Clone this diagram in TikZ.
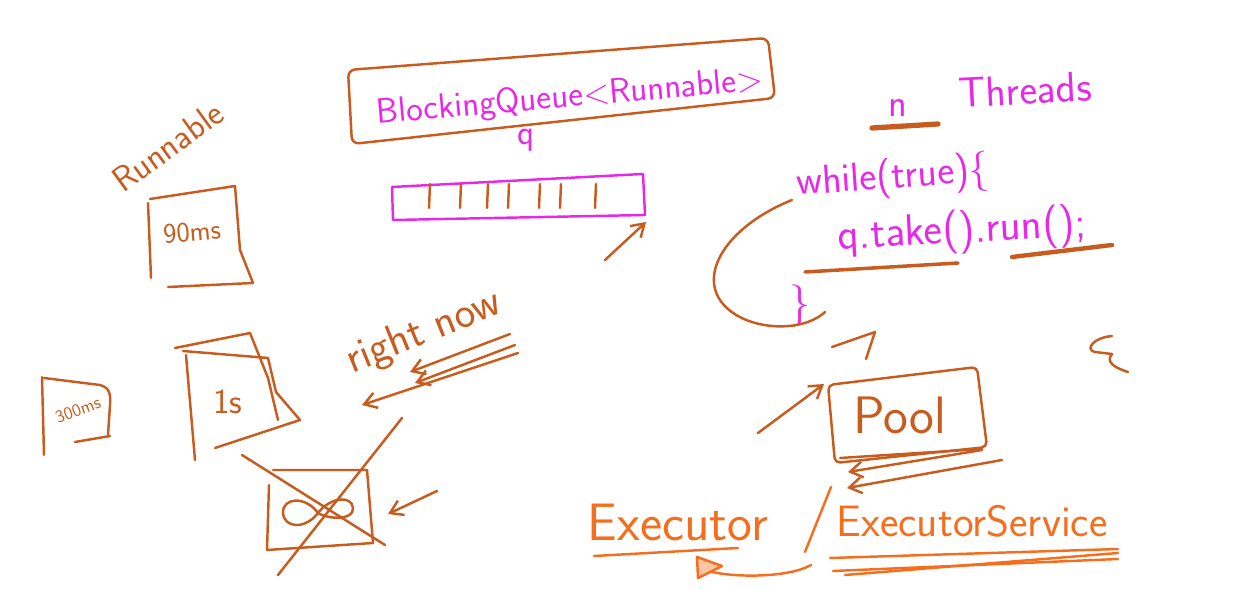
\documentclass[tikz,border=0pt]{standalone}
\usepackage{tikz}
\usetikzlibrary{arrows.meta}
\definecolor{ink}{RGB}{200,92,30}
\definecolor{pinkink}{RGB}{232,40,232}
\definecolor{brightink}{RGB}{245,110,30}
\newcommand{\hand}[1]{\sffamily\fontsize{#1}{#1}\selectfont}
\tikzset{
  stroke/.style={draw=ink, line width=1.4pt, line cap=round, line join=round},
  pstroke/.style={draw=pinkink, line width=1.4pt, line cap=round, line join=round},
  ostroke/.style={draw=brightink, line width=1.4pt, line cap=round, line join=round},
  barb/.style={-{Straight Barb[length=7pt,width=9pt]}},
  inktext/.style={text=ink, inner sep=0pt},
  pinktext/.style={text=pinkink, inner sep=0pt},
  brighttext/.style={text=brightink, inner sep=0pt}
}

\begin{document}
\begin{tikzpicture}[x=0.02cm, y=-0.02cm]
  \useasboundingbox (0,0) rectangle (1240,590);

  % blocking queue
  \draw[stroke, rounded corners=4pt] (348,70) -- (768,38) -- (775,98) -- (352,144) -- cycle;
  \node[pinktext, rotate=5, font=\hand{20}] (bq) at (570,98) {BlockingQueue<Runnable>};
  \node[pinktext, font=\hand{20}] (q) at (526,140) {q};
  \draw[pstroke] (392,187) -- (643,174) -- (645,215) -- (393,220) -- cycle;
  \foreach \x in {430,461,488,509,540,561,596}
    \draw[stroke] (\x,184) -- (\x-1,208);
  \draw[stroke, barb] (605,260) -- (646,222);

  % runnables
  \node[inktext, rotate=36, font=\hand{20}] (rn) at (168,146) {Runnable};
  \draw[stroke] (148,203) -- (151,278);
  \draw[stroke] (150,199) -- (235,186) -- (240,250) -- (253,283) -- (168,287);
  \node[inktext, rotate=5, font=\hand{16}] (t90) at (192,232) {90ms};
  \draw[stroke] (42,377) -- (44,455);
  \draw[stroke] (44,378) -- (100,385) .. controls (112,388) and (110,398) .. (110,405) -- (108,435);
  \draw[stroke] (75,442) -- (110,436);
  \node[inktext, rotate=20, font=\hand{10}] (t300) at (78,410) {300ms};
  \draw[stroke] (175,348) -- (250,333) -- (268,378) -- (278,420);
  \draw[stroke] (183,351) -- (268,358) -- (276,392) -- (300,420) -- (215,448);
  \draw[stroke] (186,355) -- (195,460);
  \node[inktext, font=\hand{20}] (t1s) at (228,402) {1s};
  \node[inktext, rotate=22, font=\hand{25}] (now) at (424,333) {right now};
  \draw[stroke, barb] (510,334) -- (410,372);
  \draw[stroke, barb] (515,345) -- (415,383);
  \draw[stroke, barb] (518,353) -- (362,405);

  % infinite task
  \draw[stroke] (273,470) -- (367,470) -- (373,543) -- (267,550);
  \draw[stroke] (269,485) -- (267,550);
  \draw[stroke] (318,513) .. controls (305,495) and (282,498) .. (283,513)
    .. controls (284,528) and (305,530) .. (318,513)
    .. controls (330,497) and (352,495) .. (353,508)
    .. controls (354,520) and (330,520) .. (318,513);
  \draw[stroke] (242,455) -- (385,545);
  \draw[stroke] (402,418) -- (278,575);
  \draw[stroke, barb] (437,491) -- (388,514);

  % threads
  \node[pinktext, font=\hand{22}] (n) at (898,108) {n};
  \draw[stroke, line width=3pt] (872,128) -- (938,124);
  \node[pinktext, rotate=3, font=\hand{24}] (thr) at (1025,90) {Threads};
  \node[pinktext, rotate=4, font=\hand{23}] (loop) at (893,178) {while(true)\{};
  \node[pinktext, rotate=3, font=\hand{25}] (take) at (962,232) {q.take().run();};
  \node[pinktext, font=\hand{24}] (close) at (800,306) {\}};
  \draw[stroke, line width=2pt] (805,272) -- (958,263);
  \draw[stroke, line width=2.5pt] (1012,257) -- (1112,245);
  \draw[stroke] (792,200) .. controls (730,225) and (700,270) .. (720,300)
    .. controls (740,330) and (800,335) .. (825,312);
  \draw[stroke] (832,347) -- (875,332) -- (866,359);

  % pool
  \draw[stroke, rounded corners=3pt] (828,385) -- (977,367) -- (987,447) -- (835,463) -- cycle;
  \draw[stroke] (840,458) -- (982,449);
  \node[inktext, font=\hand{30}] (pool) at (900,415) {Pool};
  \draw[stroke, barb] (758,433) -- (824,384);
  \draw[stroke, barb] (982,450) -- (848,472);
  \draw[stroke, barb] (1002,460) -- (847,488);
  \draw[stroke] (1112,336) .. controls (1092,338) and (1085,350) .. (1095,352)
    -- (1112,354) .. controls (1105,362) and (1115,368) .. (1128,372);

  % executor
  \node[brighttext, font=\hand{30}] (exe) at (678,522) {Executor};
  \draw[ostroke] (831,487) -- (805,552);
  \node[brighttext, font=\hand{25}] (exs) at (972,521) {ExecutorService};
  \draw[ostroke] (594,556) -- (738,548);
  \draw[ostroke] (830,558) -- (1118,549);
  \draw[ostroke] (833,571) -- (1118,559);
  \draw[ostroke] (845,575) -- (1118,553);
  \draw[ostroke] (811,565) .. controls (790,577) and (740,578) .. (712,572);
  \draw[ostroke, fill=brightink!40] (697,557) -- (722,566) -- (698,578) -- cycle;
\end{tikzpicture}
\end{document}
